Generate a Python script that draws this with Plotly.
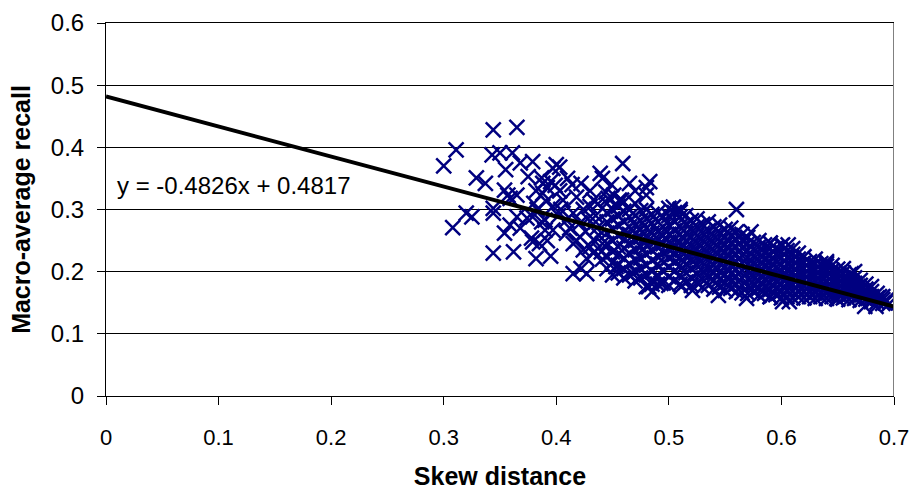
import plotly.graph_objects as go

# ---- data ----
sparse_x = [0.300, 0.311, 0.308, 0.320, 0.325, 0.329, 0.337, 0.343, 0.344, 0.365,
            0.350, 0.361, 0.355, 0.368, 0.379, 0.375, 0.387, 0.354, 0.357, 0.365,
            0.344, 0.344, 0.365, 0.374, 0.379, 0.359, 0.354, 0.378, 0.379, 0.382,
            0.344, 0.362, 0.388, 0.391, 0.390, 0.390, 0.359, 0.368,
            0.400, 0.403, 0.397, 0.439, 0.441, 0.422, 0.399, 0.403, 0.406, 0.418,
            0.433, 0.437, 0.397, 0.404, 0.415, 0.424, 0.430, 0.409, 0.421, 0.428,
            0.435, 0.397, 0.409, 0.421, 0.426, 0.433, 0.438, 0.415, 0.424, 0.433,
            0.440, 0.427, 0.415, 0.427, 0.422, 0.388, 0.392, 0.395, 0.410, 0.414,
            0.430, 0.435, 0.402, 0.412, 0.418, 0.430, 0.436, 0.441, 0.441, 0.395,
            0.392, 0.385, 0.383, 0.387, 0.380, 0.382,
            0.459, 0.465, 0.483, 0.480, 0.470, 0.480, 0.451, 0.458, 0.446, 0.444,
            0.449, 0.456, 0.453, 0.468, 0.482, 0.485,
            0.504, 0.510, 0.560, 0.573, 0.590, 0.601, 0.493, 0.511, 0.521, 0.544,
            0.569, 0.590, 0.601, 0.606, 0.640, 0.662, 0.668, 0.687, 0.693, 0.607,
            0.649, 0.674, 0.684, 0.692, 0.695]
sparse_y = [0.370, 0.396, 0.271, 0.294, 0.288, 0.351, 0.342, 0.388, 0.428, 0.432,
            0.391, 0.391, 0.364, 0.375, 0.377, 0.353, 0.351, 0.331, 0.323, 0.323,
            0.302, 0.294, 0.288, 0.286, 0.288, 0.275, 0.262, 0.254, 0.248, 0.221,
            0.230, 0.232, 0.326, 0.313, 0.283, 0.267, 0.318, 0.270,
            0.372, 0.368, 0.366, 0.358, 0.350, 0.342, 0.339, 0.330, 0.315, 0.320,
            0.315, 0.309, 0.305, 0.300, 0.294, 0.300, 0.305, 0.283, 0.278, 0.285,
            0.280, 0.267, 0.262, 0.256, 0.265, 0.251, 0.258, 0.245, 0.235, 0.230,
            0.232, 0.221, 0.197, 0.197, 0.205, 0.342, 0.335, 0.345, 0.350, 0.340,
            0.330, 0.290, 0.290, 0.270, 0.250, 0.240, 0.270, 0.245, 0.220, 0.225,
            0.250, 0.245, 0.300, 0.280, 0.310, 0.330,
            0.374, 0.342, 0.345, 0.335, 0.330, 0.323, 0.323, 0.315, 0.318, 0.328,
            0.340, 0.315, 0.208, 0.197, 0.176, 0.168,
            0.304, 0.296, 0.300, 0.264, 0.246, 0.243, 0.181, 0.176, 0.170, 0.162,
            0.157, 0.160, 0.152, 0.243, 0.213, 0.197, 0.176, 0.160, 0.154, 0.152,
            0.157, 0.144, 0.144, 0.150, 0.147]

cloud_x = ([0.445] * 7 + [0.450] * 7 + [0.455] * 8 + [0.460] * 9 + [0.465] * 8 +
           [0.470] * 9 + [0.475] * 8 + [0.480] * 9 + [0.485] * 9 + [0.490] * 9 +
           [0.495] * 8 + [0.500] * 10 + [0.505] * 9 + [0.510] * 10 + [0.515] * 9 +
           [0.520] * 9 + [0.525] * 9 + [0.530] * 9 + [0.535] * 9 + [0.540] * 9 +
           [0.545] * 9 + [0.550] * 9 + [0.555] * 9 + [0.560] * 9 + [0.565] * 9 +
           [0.570] * 9 + [0.575] * 8 + [0.580] * 9 + [0.585] * 8 + [0.590] * 9 +
           [0.595] * 8 + [0.600] * 9 + [0.605] * 8 + [0.610] * 9 + [0.615] * 8 +
           [0.620] * 8 + [0.625] * 7 + [0.630] * 8 + [0.635] * 7 + [0.640] * 8 +
           [0.645] * 7 + [0.650] * 7 + [0.655] * 7 + [0.660] * 6 + [0.665] * 6 +
           [0.670] * 5 + [0.675] * 4 + [0.680] * 4 + [0.685] * 3 + [0.690] * 3)
cloud_y = [0.205, 0.225, 0.245, 0.262, 0.280, 0.295, 0.310,
           0.195, 0.215, 0.232, 0.250, 0.268, 0.285, 0.300,
           0.210, 0.228, 0.240, 0.258, 0.275, 0.290, 0.305, 0.198,
           0.190, 0.205, 0.222, 0.238, 0.252, 0.265, 0.280, 0.297, 0.312,
           0.195, 0.212, 0.230, 0.245, 0.260, 0.272, 0.288, 0.300,
           0.185, 0.200, 0.218, 0.235, 0.250, 0.262, 0.275, 0.290, 0.310,
           0.190, 0.205, 0.222, 0.240, 0.255, 0.268, 0.282, 0.298,
           0.176, 0.195, 0.210, 0.228, 0.242, 0.258, 0.270, 0.285, 0.300,
           0.180, 0.185, 0.200, 0.218, 0.235, 0.248, 0.262, 0.278, 0.292,
           0.180, 0.195, 0.212, 0.225, 0.240, 0.252, 0.265, 0.280, 0.295,
           0.182, 0.200, 0.215, 0.230, 0.245, 0.258, 0.272, 0.288,
           0.178, 0.192, 0.208, 0.222, 0.235, 0.248, 0.260, 0.275, 0.290, 0.302,
           0.185, 0.200, 0.215, 0.228, 0.240, 0.252, 0.266, 0.280, 0.295,
           0.180, 0.195, 0.210, 0.222, 0.235, 0.247, 0.260, 0.273, 0.288, 0.300,
           0.183, 0.198, 0.212, 0.225, 0.238, 0.250, 0.262, 0.276, 0.290,
           0.178, 0.190, 0.205, 0.218, 0.230, 0.242, 0.255, 0.268, 0.282,
           0.182, 0.196, 0.210, 0.222, 0.235, 0.246, 0.258, 0.272, 0.285,
           0.175, 0.188, 0.200, 0.214, 0.226, 0.238, 0.250, 0.262, 0.276,
           0.178, 0.192, 0.205, 0.218, 0.230, 0.242, 0.254, 0.266, 0.280,
           0.172, 0.186, 0.198, 0.210, 0.222, 0.234, 0.246, 0.258, 0.272,
           0.175, 0.188, 0.200, 0.213, 0.225, 0.237, 0.249, 0.262, 0.275,
           0.170, 0.182, 0.195, 0.207, 0.219, 0.231, 0.243, 0.255, 0.268,
           0.173, 0.185, 0.197, 0.210, 0.222, 0.234, 0.246, 0.258, 0.270,
           0.168, 0.180, 0.192, 0.204, 0.216, 0.228, 0.240, 0.252, 0.264,
           0.166, 0.178, 0.190, 0.202, 0.214, 0.226, 0.238, 0.250, 0.260,
           0.165, 0.176, 0.188, 0.200, 0.211, 0.222, 0.234, 0.245, 0.255,
           0.168, 0.180, 0.192, 0.203, 0.214, 0.225, 0.236, 0.247,
           0.162, 0.173, 0.185, 0.196, 0.207, 0.218, 0.229, 0.240, 0.250,
           0.165, 0.176, 0.188, 0.199, 0.210, 0.221, 0.232, 0.243,
           0.160, 0.171, 0.182, 0.193, 0.204, 0.215, 0.226, 0.237, 0.246,
           0.163, 0.174, 0.185, 0.196, 0.207, 0.218, 0.228, 0.238,
           0.158, 0.168, 0.179, 0.190, 0.200, 0.211, 0.222, 0.232, 0.242,
           0.160, 0.171, 0.182, 0.192, 0.203, 0.213, 0.223, 0.234,
           0.158, 0.168, 0.178, 0.188, 0.198, 0.208, 0.218, 0.228, 0.237,
           0.160, 0.170, 0.180, 0.190, 0.200, 0.210, 0.220, 0.230,
           0.158, 0.167, 0.176, 0.186, 0.195, 0.205, 0.214, 0.224,
           0.160, 0.169, 0.178, 0.188, 0.197, 0.206, 0.216,
           0.157, 0.166, 0.175, 0.184, 0.193, 0.202, 0.212, 0.220,
           0.160, 0.168, 0.177, 0.186, 0.195, 0.204, 0.213,
           0.157, 0.165, 0.174, 0.183, 0.192, 0.200, 0.209, 0.216,
           0.160, 0.168, 0.176, 0.185, 0.193, 0.202, 0.210,
           0.156, 0.164, 0.172, 0.180, 0.188, 0.196, 0.204,
           0.158, 0.166, 0.174, 0.182, 0.190, 0.198, 0.205,
           0.155, 0.163, 0.171, 0.179, 0.187, 0.195,
           0.157, 0.165, 0.173, 0.181, 0.190, 0.200,
           0.154, 0.162, 0.170, 0.178, 0.186,
           0.156, 0.164, 0.172, 0.180,
           0.152, 0.160, 0.168, 0.176,
           0.151, 0.158, 0.165,
           0.149, 0.155, 0.160]

trend_slope = -0.4826
trend_intercept = 0.4817
trend_x = [0.0, 0.7]
x_ticks = [0, 0.1, 0.2, 0.3, 0.4, 0.5, 0.6, 0.7]
y_ticks = [0, 0.1, 0.2, 0.3, 0.4, 0.5, 0.6]

skew_distance = sparse_x + cloud_x
macro_recall = sparse_y + cloud_y
trend_y = [trend_slope * v + trend_intercept for v in trend_x]

FONT = "Arial, Liberation Sans, sans-serif"

fig = go.Figure()
fig.add_trace(go.Scatter(
    x=skew_distance, y=macro_recall, mode="markers",
    marker=dict(symbol="x-thin", size=15, line=dict(width=2.5, color="#000080"), color="#000080"),
    showlegend=False, hoverinfo="x+y"))
fig.add_trace(go.Scatter(
    x=trend_x, y=trend_y, mode="lines",
    line=dict(color="black", width=4), showlegend=False))

fig.add_annotation(
    x=0.008, y=0.339, xref="x", yref="y", xanchor="left", yanchor="middle",
    text="y = -0.4826x + 0.4817", showarrow=False,
    font=dict(family=FONT, size=24, color="black"))

fig.add_shape(type="line", xref="x", yref="y", x0=0.7, x1=0.7, y0=0, y1=0.6,
              line=dict(color="#808080", width=2))

fig.update_layout(
    width=915, height=491,
    margin=dict(l=106, r=21, t=23, b=95, autoexpand=False),
    paper_bgcolor="white", plot_bgcolor="white",
    font=dict(family=FONT, color="black"),
    xaxis=dict(
        range=[0, 0.7], tickvals=x_ticks, ticktext=[f"{v:g}" for v in x_ticks],
        automargin=False,
        showgrid=False, zeroline=False, showline=True, linecolor="black", linewidth=1,
        mirror=True, ticks="outside", ticklen=8, tickcolor="black",
        tickfont=dict(size=22), ticklabelstandoff=14,
        title=dict(text="<b>Skew distance</b>", font=dict(size=25), standoff=18)),
    yaxis=dict(
        range=[0, 0.6], tickvals=y_ticks, ticktext=[f"{v:g}" for v in y_ticks],
        automargin=False,
        showgrid=True, gridcolor="black", gridwidth=1,
        zeroline=False, showline=True, linecolor="black", linewidth=1,
        ticks="outside", ticklen=8, tickcolor="black",
        tickfont=dict(size=24), ticklabelstandoff=8,
        title=dict(text="<b>Macro-average recall</b>", font=dict(size=25), standoff=13)),
)

fig.write_html("out.html")
